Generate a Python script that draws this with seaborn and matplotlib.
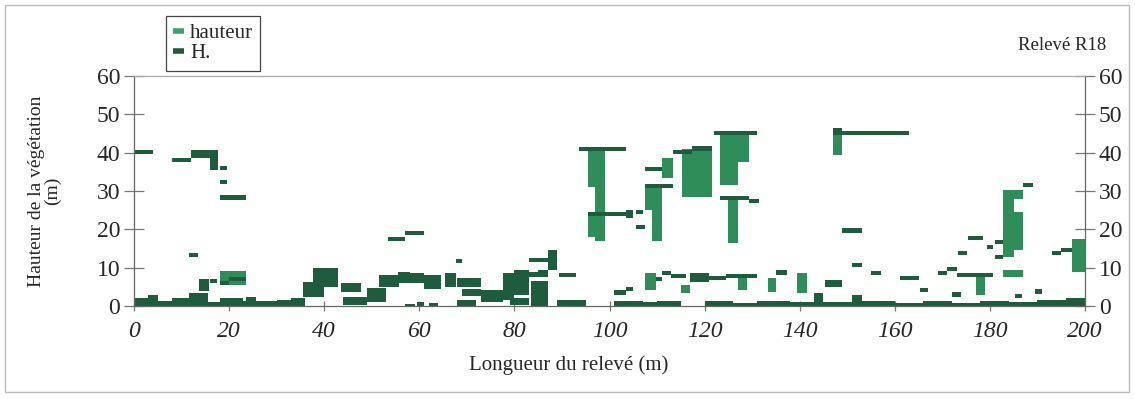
import numpy as np
import pandas as pd
import matplotlib
matplotlib.use('Agg')
import matplotlib.pyplot as plt
import seaborn as sns
from matplotlib.lines import Line2D
from matplotlib.patches import Rectangle

# --- series "hauteur" : vertical ranges (x start, x end, low, high) in m
haut_x0 = [95.4, 97.0, 95.4, 107.5, 109.0, 111.0, 115.3, 123.3, 127.0, 125.0, 147.0,
           182.8, 185.0, 185.0, 197.3, 177.0, 139.5, 107.5, 127.0, 115.0, 133.4, 182.8, 18.0]
haut_x1 = [99.0, 99.0, 97.7, 111.0, 111.0, 113.4, 121.6, 127.0, 129.3, 127.0, 149.0,
           185.0, 187.0, 187.0, 200.5, 179.0, 141.6, 109.7, 129.0, 117.0, 135.0, 187.0, 23.5]
haut_lo = [31.0, 17.0, 18.0, 25.0, 17.0, 33.4, 28.5, 31.5, 37.5, 16.5, 39.4,
           12.8, 14.5, 28.0, 9.0, 3.0, 3.4, 4.2, 4.2, 3.4, 3.7, 7.5, 5.5]
haut_hi = [40.5, 31.5, 24.0, 31.0, 25.0, 38.6, 41.0, 45.0, 45.0, 27.7, 46.0,
           30.3, 24.5, 30.3, 17.5, 8.6, 8.6, 8.6, 7.6, 5.5, 7.3, 9.5, 9.0]

# --- series "H." : short marks (x start, x end, height)
mark_x0 = [0, 8, 18, 18, 18, 11.5, 53.5, 57, 93.5, 95.4, 105.5, 105.5, 107.5, 107.5, 113.4,
           117.4, 122, 123.3, 129.3, 149, 149, 151, 155, 161, 165.3, 175.4, 179.4, 181, 181,
           173.3, 187, 169, 171, 173, 172, 189.5, 193, 195, 185.3, 16, 67.7, 83, 89.3, 109.7,
           111, 113, 121, 124.6, 101, 103.4, 18, 20]
mark_x1 = [4, 12, 19.5, 19.5, 23.5, 13.5, 57, 61, 103.4, 104, 107, 107.5, 111, 113.4, 117.4,
           121.6, 131, 129.3, 131.5, 163, 153, 153, 157, 165, 167, 178.6, 180.7, 182.8, 182.8,
           175.2, 189, 171, 173, 180.7, 174, 191, 195, 197.3, 186.8, 17.5, 69, 87, 93, 111,
           113, 116, 124.6, 131, 103.4, 105, 20, 23.5]
mark_y = [40.1, 38.0, 36.0, 32.3, 28.3, 13.3, 17.5, 19.1, 40.9, 24.1, 24.5, 20.6, 35.8, 31.4, 40.1,
          41.1, 45.1, 28.1, 27.3, 45.1, 19.7, 10.7, 8.6, 7.3, 4.2, 17.8, 15.4, 16.7, 12.8,
          13.8, 31.6, 8.6, 9.6, 8.0, 3.0, 3.8, 13.8, 14.6, 2.6, 6.5, 11.7, 12.0, 8.0, 7.1,
          8.6, 7.8, 7.3, 7.8, 3.5, 4.5, 6.0, 7.0]

# --- series "H." : stacked marks forming blocks (x start, x end, low, high)
blk_x0 = [12, 16, 103.4, 13.6, 35.5, 37.6, 43.5, 44, 49, 51.5, 55.5, 58, 61, 65.5,
          68, 69, 68, 73, 77.5, 80, 79, 83, 83.5, 85, 87, 89, 117, 135, 145.4, 147]
blk_x1 = [17.6, 17.6, 105, 15.8, 40, 43, 47.7, 49, 53, 55.7, 58, 61, 64.5, 67.7,
          73, 73, 72, 77.5, 80, 83, 83, 85, 87, 87, 89, 95, 121, 137.4, 149, 149]
blk_lo = [38.5, 35.5, 23.0, 4.0, 2.3, 5.0, 3.7, 0.3, 1.0, 5.0, 6.0, 6.0, 4.5, 5.0,
          5.0, 2.5, 0.0, 1.0, 1.5, 3.0, 0.3, 7.5, 0.0, 7.5, 9.4, 0.0, 6.3, 8.0, 5.0, 44.5]
blk_hi = [40.7, 38.6, 25.0, 7.0, 6.3, 10.0, 6.0, 2.4, 4.7, 8.0, 9.0, 8.5, 8.0, 8.6,
          7.3, 4.5, 1.5, 4.2, 8.6, 9.4, 2.0, 9.0, 6.5, 9.4, 14.6, 1.6, 8.6, 9.4, 6.8, 46.5]

# --- series "H." : ground layer (x start, x end, height)
gr_x0 = [0, 3, 4, 8, 11.5, 15.5, 18, 23, 23.5, 25.6, 30, 33, 57, 59.5, 62, 101, 107, 110,
         120, 126, 131, 138, 143, 145, 151, 153, 160, 166, 172, 178, 184, 190, 196, 198.5]
gr_x1 = [4, 5, 8, 11.5, 15.5, 18, 23, 25.6, 25.6, 30, 33, 36, 59, 61, 64, 107, 110, 115,
         126, 131, 138, 143, 145, 151, 153, 160, 166, 172, 178, 184, 190, 196, 198.5, 200.5]
gr_y = [2.0, 3.0, 1.2, 2.2, 3.4, 1.0, 2.2, 1.2, 2.3, 1.2, 1.5, 2.0, 0.6, 1.0, 0.8, 1.3, 1.0, 1.4,
        1.2, 0.8, 1.3, 1.0, 3.4, 1.0, 3.0, 1.3, 0.9, 1.2, 0.8, 1.3, 1.0, 1.6, 2.2, 2.0]

light = '#2e8d58'
dark = '#1f5c3e'
mark_t = 1.1

sns.set_style('ticks')
plt.rcParams['font.family'] = ['Liberation Serif', 'DejaVu Serif']

fig = plt.figure(figsize=(11.35, 3.99), dpi=100)
ax = fig.add_axes([134 / 1135, 93 / 399, 951 / 1135, 230 / 399])

haut = pd.DataFrame({'x0': haut_x0, 'x1': haut_x1, 'lo': haut_lo, 'hi': haut_hi})
ax.bar(haut['x0'], haut['hi'] - haut['lo'], width=haut['x1'] - haut['x0'],
       bottom=haut['lo'], align='edge', color=light, linewidth=0)

blk = pd.DataFrame({'x0': blk_x0, 'x1': blk_x1, 'lo': blk_lo, 'hi': blk_hi})
ax.bar(blk['x0'], blk['hi'] - blk['lo'], width=blk['x1'] - blk['x0'],
       bottom=blk['lo'], align='edge', color=dark, linewidth=0)

gr = pd.DataFrame({'x0': gr_x0, 'x1': gr_x1, 'y': gr_y})
ax.bar(gr['x0'], gr['y'], width=gr['x1'] - gr['x0'], bottom=0,
       align='edge', color=dark, linewidth=0)

marks = pd.DataFrame({'x0': mark_x0, 'x1': mark_x1, 'y': mark_y})
ax.bar(marks['x0'], mark_t, width=marks['x1'] - marks['x0'],
       bottom=marks['y'] - mark_t / 2, align='edge', color=dark, linewidth=0)

ax.set_xlim(0, 200)
ax.set_ylim(0, 60)
ax.set_xticks(range(0, 201, 20))
ax.set_yticks(range(0, 61, 10))

for s in ax.spines.values():
    s.set_color('#666666')
    s.set_linewidth(0.9)
ax.spines['top'].set_color('#aaaaaa')

ax.tick_params(axis='y', which='both', direction='inout', length=14, width=0.9,
               color='#777777', labelsize=17, pad=3, right=True, labelright=True)
ax.tick_params(axis='x', direction='inout', length=7, width=0.9, color='#777777',
               labelsize=17, pad=7)
for lab in ax.get_xticklabels():
    lab.set_fontstyle('italic')

ax.set_xlabel('Longueur du relevé (m)', fontsize=15)
ax.xaxis.set_label_coords(0.457, -0.215)
ax.set_ylabel('Hauteur de la végétation\n(m)', fontsize=14, linespacing=0.9)
ax.yaxis.set_label_coords(-0.077, 0.5)

handles = [Line2D([0], [0], color='#3aa36c', lw=4, solid_capstyle='butt'),
           Line2D([0], [0], color=dark, lw=4, solid_capstyle='butt')]
leg = fig.legend(handles, ['hauteur', 'H.'], loc='upper left',
                 bbox_to_anchor=(166 / 1135, 1 - 16 / 399), fontsize=15,
                 handlelength=0.5, handletextpad=0.3, labelspacing=0.05,
                 borderpad=0.35, borderaxespad=0, fancybox=False, framealpha=1)
leg.get_frame().set_edgecolor('#444444')
leg.get_frame().set_linewidth(0.9)

fig.text(1018 / 1135, 1 - 46 / 399, 'Relevé R18', fontsize=13.5, ha='left', va='center')

fig.patches.append(Rectangle((5 / 1135, 7 / 399), 1124 / 1135, 387 / 399,
                             transform=fig.transFigure, fill=False,
                             edgecolor='#bbbbbb', linewidth=1))

fig.savefig('out.png', dpi=100, facecolor='white')
